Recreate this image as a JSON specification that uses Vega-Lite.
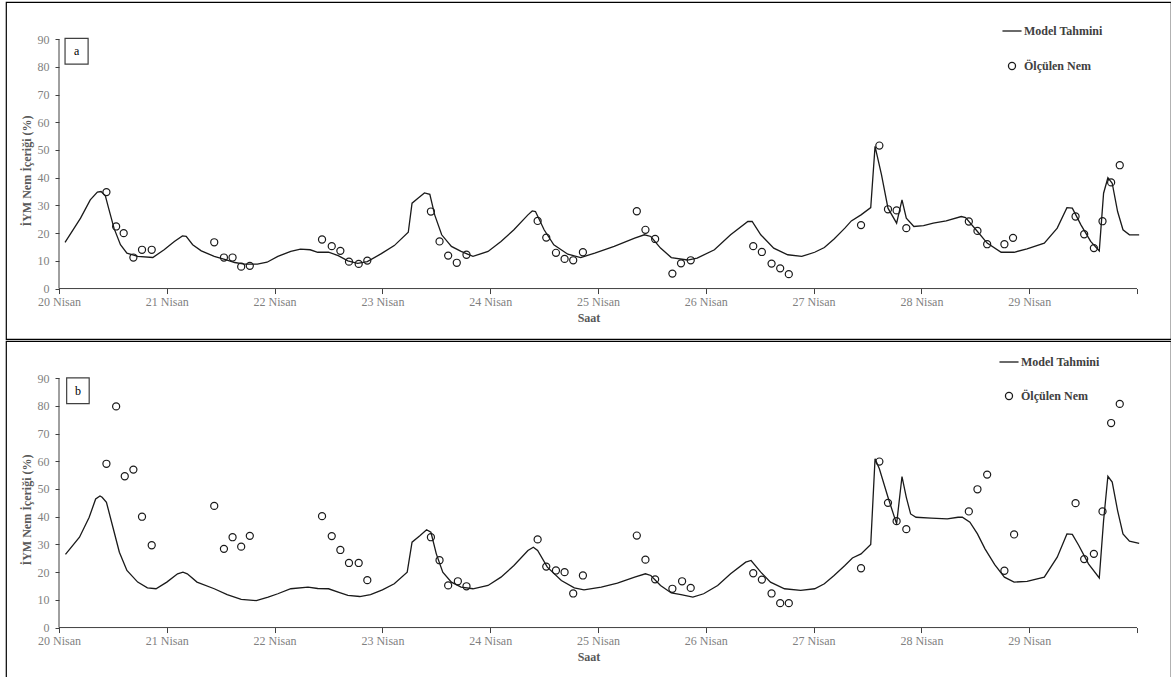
{
"$schema":"https://vega.github.io/schema/vega-lite/v6.json",
"padding":{"left":5,"top":1,"right":1,"bottom":1},
"background":"white",
"spacing":0,
"config":{
 "view":{"stroke":"#000000","strokeWidth":1.2},
 "axis":{"labelFont":"Liberation Serif","labelFontSize":12,"labelColor":"#7f7f7f","tickColor":"#404040","titleFont":"Liberation Serif","titleFontSize":12,"titleFontWeight":"bold","titleColor":"#595959","grid":false,"domain":false,"labelOverlap":false},
 "legend":{"labelFont":"Liberation Serif"}
},
"datasets":{
"lines":[
{"p":"a","x":20.056,"y":16.7},{"p":"a","x":20.2,"y":25.4},{"p":"a","x":20.29,"y":32},{"p":"a","x":20.356,"y":34.8},{"p":"a","x":20.39,"y":35},{"p":"a","x":20.43,"y":33.5},{"p":"a","x":20.46,"y":29},{"p":"a","x":20.51,"y":21.8},{"p":"a","x":20.57,"y":15.8},{"p":"a","x":20.63,"y":12.8},{"p":"a","x":20.73,"y":11.6},{"p":"a","x":20.87,"y":11.2},{"p":"a","x":20.975,"y":14},{"p":"a","x":21.07,"y":17},{"p":"a","x":21.145,"y":19},{"p":"a","x":21.18,"y":18.8},{"p":"a","x":21.24,"y":15.8},{"p":"a","x":21.32,"y":13.6},{"p":"a","x":21.44,"y":11.6},{"p":"a","x":21.56,"y":10.3},{"p":"a","x":21.63,"y":9.4},{"p":"a","x":21.72,"y":8.8},{"p":"a","x":21.84,"y":8.8},{"p":"a","x":21.93,"y":9.5},{"p":"a","x":22.03,"y":11.6},{"p":"a","x":22.15,"y":13.4},{"p":"a","x":22.24,"y":14.2},{"p":"a","x":22.33,"y":14},{"p":"a","x":22.4,"y":13.1},{"p":"a","x":22.5,"y":13.1},{"p":"a","x":22.59,"y":11.9},{"p":"a","x":22.68,"y":10},{"p":"a","x":22.77,"y":9.1},{"p":"a","x":22.86,"y":9.7},{"p":"a","x":22.99,"y":12.6},{"p":"a","x":23.11,"y":15.5},{"p":"a","x":23.24,"y":20.3},{"p":"a","x":23.275,"y":30.8},{"p":"a","x":23.33,"y":32.6},{"p":"a","x":23.39,"y":34.5},{"p":"a","x":23.44,"y":34},{"p":"a","x":23.485,"y":26.6},{"p":"a","x":23.55,"y":19.4},{"p":"a","x":23.64,"y":15.2},{"p":"a","x":23.73,"y":13.4},{"p":"a","x":23.84,"y":11.6},{"p":"a","x":23.98,"y":13.4},{"p":"a","x":24.1,"y":17},{"p":"a","x":24.22,"y":21.2},{"p":"a","x":24.35,"y":26.6},{"p":"a","x":24.39,"y":28},{"p":"a","x":24.42,"y":27.8},{"p":"a","x":24.5,"y":21.2},{"p":"a","x":24.59,"y":15.8},{"p":"a","x":24.72,"y":12.4},{"p":"a","x":24.84,"y":11.2},{"p":"a","x":24.97,"y":12.8},{"p":"a","x":25.15,"y":15.2},{"p":"a","x":25.34,"y":18.2},{"p":"a","x":25.43,"y":19.4},{"p":"a","x":25.49,"y":18.8},{"p":"a","x":25.58,"y":14.6},{"p":"a","x":25.68,"y":11.2},{"p":"a","x":25.83,"y":10.3},{"p":"a","x":25.92,"y":11},{"p":"a","x":26.08,"y":14},{"p":"a","x":26.23,"y":19.4},{"p":"a","x":26.39,"y":24.2},{"p":"a","x":26.43,"y":24.2},{"p":"a","x":26.51,"y":19.4},{"p":"a","x":26.63,"y":14.6},{"p":"a","x":26.76,"y":12.2},{"p":"a","x":26.89,"y":11.6},{"p":"a","x":27.01,"y":13.1},{"p":"a","x":27.1,"y":14.8},{"p":"a","x":27.19,"y":17.9},{"p":"a","x":27.29,"y":21.8},{"p":"a","x":27.35,"y":24.4},{"p":"a","x":27.44,"y":26.6},{"p":"a","x":27.53,"y":29.2},{"p":"a","x":27.57,"y":51.3},{"p":"a","x":27.63,"y":41},{"p":"a","x":27.69,"y":29},{"p":"a","x":27.77,"y":23.6},{"p":"a","x":27.82,"y":32},{"p":"a","x":27.86,"y":25.4},{"p":"a","x":27.93,"y":22.4},{"p":"a","x":28.02,"y":22.7},{"p":"a","x":28.11,"y":23.6},{"p":"a","x":28.23,"y":24.4},{"p":"a","x":28.37,"y":26},{"p":"a","x":28.41,"y":25.6},{"p":"a","x":28.52,"y":20.6},{"p":"a","x":28.61,"y":16.4},{"p":"a","x":28.74,"y":13.1},{"p":"a","x":28.86,"y":13.1},{"p":"a","x":28.98,"y":14.3},{"p":"a","x":29.14,"y":16.4},{"p":"a","x":29.26,"y":21.8},{"p":"a","x":29.35,"y":29.2},{"p":"a","x":29.4,"y":29},{"p":"a","x":29.48,"y":23},{"p":"a","x":29.57,"y":17},{"p":"a","x":29.65,"y":13.6},{"p":"a","x":29.69,"y":34.4},{"p":"a","x":29.73,"y":40},{"p":"a","x":29.77,"y":38},{"p":"a","x":29.82,"y":27.8},{"p":"a","x":29.87,"y":21.2},{"p":"a","x":29.93,"y":19.4},{"p":"a","x":30.02,"y":19.4},
{"p":"b","x":20.06,"y":26.4},{"p":"b","x":20.19,"y":32.6},{"p":"b","x":20.28,"y":39.8},{"p":"b","x":20.34,"y":46.4},{"p":"b","x":20.38,"y":47.5},{"p":"b","x":20.4,"y":47},{"p":"b","x":20.44,"y":45.2},{"p":"b","x":20.5,"y":36.2},{"p":"b","x":20.56,"y":27.2},{"p":"b","x":20.63,"y":20.6},{"p":"b","x":20.73,"y":16.4},{"p":"b","x":20.82,"y":14.3},{"p":"b","x":20.9,"y":14},{"p":"b","x":21.0,"y":16.4},{"p":"b","x":21.1,"y":19.4},{"p":"b","x":21.15,"y":20},{"p":"b","x":21.19,"y":19.4},{"p":"b","x":21.28,"y":16.4},{"p":"b","x":21.44,"y":14},{"p":"b","x":21.56,"y":11.9},{"p":"b","x":21.69,"y":10.2},{"p":"b","x":21.83,"y":9.7},{"p":"b","x":21.94,"y":11},{"p":"b","x":22.03,"y":12.2},{"p":"b","x":22.15,"y":14},{"p":"b","x":22.31,"y":14.6},{"p":"b","x":22.4,"y":14.1},{"p":"b","x":22.5,"y":14},{"p":"b","x":22.59,"y":12.8},{"p":"b","x":22.68,"y":11.6},{"p":"b","x":22.79,"y":11.2},{"p":"b","x":22.89,"y":11.9},{"p":"b","x":23.0,"y":13.6},{"p":"b","x":23.11,"y":15.8},{"p":"b","x":23.23,"y":20},{"p":"b","x":23.275,"y":30.8},{"p":"b","x":23.35,"y":33.2},{"p":"b","x":23.41,"y":35.3},{"p":"b","x":23.45,"y":34.4},{"p":"b","x":23.5,"y":26.6},{"p":"b","x":23.56,"y":20},{"p":"b","x":23.64,"y":16.4},{"p":"b","x":23.73,"y":14.6},{"p":"b","x":23.84,"y":14},{"p":"b","x":23.98,"y":15.2},{"p":"b","x":24.1,"y":18.2},{"p":"b","x":24.22,"y":22.4},{"p":"b","x":24.35,"y":27.8},{"p":"b","x":24.4,"y":29},{"p":"b","x":24.44,"y":27.8},{"p":"b","x":24.53,"y":21.8},{"p":"b","x":24.66,"y":17},{"p":"b","x":24.78,"y":14.3},{"p":"b","x":24.87,"y":13.6},{"p":"b","x":25.03,"y":14.6},{"p":"b","x":25.18,"y":16},{"p":"b","x":25.34,"y":18.2},{"p":"b","x":25.44,"y":19.4},{"p":"b","x":25.49,"y":18.8},{"p":"b","x":25.58,"y":15.2},{"p":"b","x":25.68,"y":12.5},{"p":"b","x":25.77,"y":11.9},{"p":"b","x":25.88,"y":11},{"p":"b","x":25.98,"y":12.2},{"p":"b","x":26.11,"y":15.2},{"p":"b","x":26.23,"y":19.4},{"p":"b","x":26.37,"y":23.6},{"p":"b","x":26.42,"y":24.2},{"p":"b","x":26.51,"y":20},{"p":"b","x":26.6,"y":16.4},{"p":"b","x":26.73,"y":14},{"p":"b","x":26.88,"y":13.4},{"p":"b","x":27.01,"y":14},{"p":"b","x":27.1,"y":15.8},{"p":"b","x":27.19,"y":18.8},{"p":"b","x":27.29,"y":22.4},{"p":"b","x":27.36,"y":25.1},{"p":"b","x":27.44,"y":26.6},{"p":"b","x":27.53,"y":30},{"p":"b","x":27.57,"y":60.9},{"p":"b","x":27.61,"y":57.3},{"p":"b","x":27.69,"y":47},{"p":"b","x":27.77,"y":37.4},{"p":"b","x":27.82,"y":54.5},{"p":"b","x":27.86,"y":47},{"p":"b","x":27.9,"y":41},{"p":"b","x":27.95,"y":39.8},{"p":"b","x":28.09,"y":39.5},{"p":"b","x":28.24,"y":39.2},{"p":"b","x":28.34,"y":39.8},{"p":"b","x":28.38,"y":39.8},{"p":"b","x":28.45,"y":38},{"p":"b","x":28.52,"y":33.8},{"p":"b","x":28.59,"y":28.4},{"p":"b","x":28.68,"y":22.7},{"p":"b","x":28.77,"y":18.2},{"p":"b","x":28.86,"y":16.4},{"p":"b","x":28.98,"y":16.7},{"p":"b","x":29.14,"y":18.2},{"p":"b","x":29.26,"y":25.4},{"p":"b","x":29.35,"y":33.8},{"p":"b","x":29.4,"y":33.6},{"p":"b","x":29.46,"y":29.6},{"p":"b","x":29.55,"y":23},{"p":"b","x":29.65,"y":17.9},{"p":"b","x":29.69,"y":38.6},{"p":"b","x":29.73,"y":54.6},{"p":"b","x":29.77,"y":52.5},{"p":"b","x":29.82,"y":42.2},{"p":"b","x":29.87,"y":33.8},{"p":"b","x":29.93,"y":31.2},{"p":"b","x":30.02,"y":30.4}
],
"points":[
{"p":"a","x":20.44,"y":34.8},{"p":"a","x":20.53,"y":22.4},{"p":"a","x":20.6,"y":20},{"p":"a","x":20.69,"y":11.2},{"p":"a","x":20.77,"y":14},{"p":"a","x":20.86,"y":14},{"p":"a","x":21.44,"y":16.7},{"p":"a","x":21.53,"y":11.2},{"p":"a","x":21.61,"y":11.2},{"p":"a","x":21.69,"y":7.9},{"p":"a","x":21.77,"y":8.2},{"p":"a","x":22.44,"y":17.7},{"p":"a","x":22.53,"y":15.3},{"p":"a","x":22.61,"y":13.6},{"p":"a","x":22.69,"y":9.7},{"p":"a","x":22.78,"y":8.9},{"p":"a","x":22.86,"y":10.1},{"p":"a","x":23.45,"y":27.8},{"p":"a","x":23.53,"y":17},{"p":"a","x":23.61,"y":11.9},{"p":"a","x":23.69,"y":9.3},{"p":"a","x":23.78,"y":12.2},{"p":"a","x":24.44,"y":24.4},{"p":"a","x":24.52,"y":18.4},{"p":"a","x":24.61,"y":12.9},{"p":"a","x":24.69,"y":10.7},{"p":"a","x":24.77,"y":10.2},{"p":"a","x":24.86,"y":13.1},{"p":"a","x":25.36,"y":27.9},{"p":"a","x":25.44,"y":21.2},{"p":"a","x":25.53,"y":17.9},{"p":"a","x":25.69,"y":5.4},{"p":"a","x":25.77,"y":9.1},{"p":"a","x":25.86,"y":10.2},{"p":"a","x":26.44,"y":15.3},{"p":"a","x":26.52,"y":13.2},{"p":"a","x":26.61,"y":9},{"p":"a","x":26.69,"y":7.3},{"p":"a","x":26.77,"y":5.2},{"p":"a","x":27.44,"y":22.9},{"p":"a","x":27.61,"y":51.6},{"p":"a","x":27.69,"y":28.6},{"p":"a","x":27.77,"y":28.2},{"p":"a","x":27.86,"y":21.8},{"p":"a","x":28.44,"y":24.2},{"p":"a","x":28.52,"y":20.8},{"p":"a","x":28.61,"y":16},{"p":"a","x":28.77,"y":16},{"p":"a","x":28.85,"y":18.3},{"p":"a","x":29.43,"y":26},{"p":"a","x":29.51,"y":19.6},{"p":"a","x":29.6,"y":14.6},{"p":"a","x":29.68,"y":24.3},{"p":"a","x":29.76,"y":38.3},{"p":"a","x":29.84,"y":44.5},
{"p":"b","x":20.44,"y":59.1},{"p":"b","x":20.53,"y":79.8},{"p":"b","x":20.61,"y":54.6},{"p":"b","x":20.69,"y":57},{"p":"b","x":20.77,"y":40},{"p":"b","x":20.86,"y":29.7},{"p":"b","x":21.44,"y":43.9},{"p":"b","x":21.53,"y":28.4},{"p":"b","x":21.61,"y":32.6},{"p":"b","x":21.69,"y":29.2},{"p":"b","x":21.77,"y":33.1},{"p":"b","x":22.44,"y":40.2},{"p":"b","x":22.53,"y":33},{"p":"b","x":22.61,"y":28},{"p":"b","x":22.69,"y":23.3},{"p":"b","x":22.78,"y":23.3},{"p":"b","x":22.86,"y":17.1},{"p":"b","x":23.45,"y":32.6},{"p":"b","x":23.53,"y":24.3},{"p":"b","x":23.61,"y":15.2},{"p":"b","x":23.7,"y":16.7},{"p":"b","x":23.78,"y":14.9},{"p":"b","x":24.44,"y":31.8},{"p":"b","x":24.52,"y":22},{"p":"b","x":24.61,"y":20.6},{"p":"b","x":24.69,"y":20},{"p":"b","x":24.77,"y":12.3},{"p":"b","x":24.86,"y":18.8},{"p":"b","x":25.36,"y":33.2},{"p":"b","x":25.44,"y":24.5},{"p":"b","x":25.53,"y":17.4},{"p":"b","x":25.69,"y":14},{"p":"b","x":25.78,"y":16.7},{"p":"b","x":25.86,"y":14.3},{"p":"b","x":26.44,"y":19.6},{"p":"b","x":26.52,"y":17.3},{"p":"b","x":26.61,"y":12.3},{"p":"b","x":26.69,"y":8.8},{"p":"b","x":26.77,"y":8.8},{"p":"b","x":27.44,"y":21.4},{"p":"b","x":27.61,"y":59.9},{"p":"b","x":27.69,"y":45},{"p":"b","x":27.77,"y":38.4},{"p":"b","x":27.86,"y":35.5},{"p":"b","x":28.44,"y":41.9},{"p":"b","x":28.52,"y":49.9},{"p":"b","x":28.61,"y":55.2},{"p":"b","x":28.77,"y":20.5},{"p":"b","x":28.86,"y":33.6},{"p":"b","x":29.43,"y":44.9},{"p":"b","x":29.51,"y":24.7},{"p":"b","x":29.6,"y":26.6},{"p":"b","x":29.68,"y":41.9},{"p":"b","x":29.76,"y":73.8},{"p":"b","x":29.84,"y":80.7}
]
},
"resolve":{"scale":{"x":"independent","y":"independent","shape":"independent"},"legend":{"shape":"independent"},"axis":{"x":"independent","y":"independent"}},
"vconcat":[
{
 "width":1165,"height":337,
 "layer":[
  {"data":{"name":"lines"},"transform":[{"filter":"datum.p === 'a'"}],
   "mark":{"type":"line","color":"#1a1a1a","strokeWidth":1.3},
   "encoding":{
    "x":{"field":"x","type":"quantitative","scale":{"domain":[19.5083,30.3154],"nice":false,"zero":false},
      "axis":{"title":"Saat","values":[20,21,22,23,24,25,26,27,28,29,30],"tickCount":40,"offset":-50.44,"tickSize":5,"labelPadding":3,"titlePadding":5,"labelFlush":false,"labelOverlap":false,"labelExpr":"datum.value < 30 ? datum.value + ' Nisan' : ''"}},
    "y":{"field":"y","type":"quantitative","scale":{"domain":[-18.2,103.4],"nice":false,"zero":false},
      "axis":{"title":"İYM Nem İçeriği (%)","values":[0,10,20,30,40,50,60,70,80,90],"tickCount":20,"offset":-53,"tickSize":4,"labelPadding":6,"titlePadding":4,"labelOverlap":false}}
   }},
  {"data":{"name":"points"},"transform":[{"filter":"datum.p === 'a'"}],
   "mark":{"type":"point","filled":false,"stroke":"#1a1a1a","strokeWidth":1.2,"size":50,"opacity":1},
   "encoding":{
    "x":{"field":"x","type":"quantitative",
      "axis":{"title":"Saat","values":[20,21,22,23,24,25,26,27,28,29,30],"tickCount":40,"offset":-50.44,"tickSize":5,"labelPadding":3,"titlePadding":5,"labelFlush":false,"labelOverlap":false,"labelExpr":"datum.value < 30 ? datum.value + ' Nisan' : ''"}},
    "y":{"field":"y","type":"quantitative",
      "axis":{"title":"İYM Nem İçeriği (%)","values":[0,10,20,30,40,50,60,70,80,90],"tickCount":20,"offset":-53,"tickSize":4,"labelPadding":6,"titlePadding":4,"labelOverlap":false}},
    "shape":{"datum":"Ölçülen Nem","type":"nominal","scale":{"domain":["Model Tahmini","Ölçülen Nem"],"range":["M-2.7,0H2.7","circle"]},
      "legend":{"title":null,"orient":"none","legendX":1000,"legendY":23,"padding":0,"symbolSize":50,"rowPadding":22,"labelOffset":6,"labelFont":"Liberation Serif","labelFontSize":12,"labelFontWeight":"bold","labelColor":"#404040","symbolStrokeColor":"#1a1a1a","symbolStrokeWidth":1.3}}
   }},
  {"data":{"values":[{}]},"mark":{"type":"rule","color":"#404040","strokeWidth":1},
   "encoding":{"x":{"datum":20,"type":"quantitative"},"x2":{"datum":30},"y":{"datum":0,"type":"quantitative"}}},
  {"data":{"values":[{}]},"mark":{"type":"rule","color":"#404040","strokeWidth":1},
   "encoding":{"x":{"datum":20,"type":"quantitative"},"y":{"datum":0,"type":"quantitative"},"y2":{"datum":90}}},
  {"data":{"values":[{}]},"mark":{"type":"rect","fill":"white","stroke":"#404040","strokeWidth":1.2},
   "encoding":{"x":{"datum":20.056,"type":"quantitative"},"x2":{"datum":20.27},"y":{"datum":81,"type":"quantitative"},"y2":{"datum":90.3}}},
  {"data":{"values":[{}]},"mark":{"type":"text","text":"a","font":"Liberation Serif","fontSize":12,"color":"#000000","align":"center","baseline":"middle"},
   "encoding":{"x":{"datum":20.163,"type":"quantitative"},"y":{"datum":85.8,"type":"quantitative"}}}
 ]
},
{
 "width":1165,"height":337,
 "layer":[
  {"data":{"name":"lines"},"transform":[{"filter":"datum.p === 'b'"}],
   "mark":{"type":"line","color":"#1a1a1a","strokeWidth":1.3},
   "encoding":{
    "x":{"field":"x","type":"quantitative","scale":{"domain":[19.5083,30.3154],"nice":false,"zero":false},
      "axis":{"title":"Saat","values":[20,21,22,23,24,25,26,27,28,29,30],"tickCount":40,"offset":-50.44,"tickSize":5,"labelPadding":3,"titlePadding":5,"labelFlush":false,"labelOverlap":false,"labelExpr":"datum.value < 30 ? datum.value + ' Nisan' : ''"}},
    "y":{"field":"y","type":"quantitative","scale":{"domain":[-18.2,103.4],"nice":false,"zero":false},
      "axis":{"title":"İYM Nem İçeriği (%)","values":[0,10,20,30,40,50,60,70,80,90],"tickCount":20,"offset":-53,"tickSize":4,"labelPadding":6,"titlePadding":4,"labelOverlap":false}}
   }},
  {"data":{"name":"points"},"transform":[{"filter":"datum.p === 'b'"}],
   "mark":{"type":"point","filled":false,"stroke":"#1a1a1a","strokeWidth":1.2,"size":50,"opacity":1},
   "encoding":{
    "x":{"field":"x","type":"quantitative",
      "axis":{"title":"Saat","values":[20,21,22,23,24,25,26,27,28,29,30],"tickCount":40,"offset":-50.44,"tickSize":5,"labelPadding":3,"titlePadding":5,"labelFlush":false,"labelOverlap":false,"labelExpr":"datum.value < 30 ? datum.value + ' Nisan' : ''"}},
    "y":{"field":"y","type":"quantitative",
      "axis":{"title":"İYM Nem İçeriği (%)","values":[0,10,20,30,40,50,60,70,80,90],"tickCount":20,"offset":-53,"tickSize":4,"labelPadding":6,"titlePadding":4,"labelOverlap":false}},
    "shape":{"datum":"Ölçülen Nem","type":"nominal","scale":{"domain":["Model Tahmini","Ölçülen Nem"],"range":["M-2.7,0H2.7","circle"]},
      "legend":{"title":null,"orient":"none","legendX":997,"legendY":15,"padding":0,"symbolSize":50,"rowPadding":21,"labelOffset":6,"labelFont":"Liberation Serif","labelFontSize":12,"labelFontWeight":"bold","labelColor":"#404040","symbolStrokeColor":"#1a1a1a","symbolStrokeWidth":1.3}}
   }},
  {"data":{"values":[{}]},"mark":{"type":"rule","color":"#404040","strokeWidth":1},
   "encoding":{"x":{"datum":20,"type":"quantitative"},"x2":{"datum":30},"y":{"datum":0,"type":"quantitative"}}},
  {"data":{"values":[{}]},"mark":{"type":"rule","color":"#404040","strokeWidth":1},
   "encoding":{"x":{"datum":20,"type":"quantitative"},"y":{"datum":0,"type":"quantitative"},"y2":{"datum":90}}},
  {"data":{"values":[{}]},"mark":{"type":"rect","fill":"white","stroke":"#404040","strokeWidth":1.2},
   "encoding":{"x":{"datum":20.071,"type":"quantitative"},"x2":{"datum":20.28},"y":{"datum":80.8,"type":"quantitative"},"y2":{"datum":90.1}}},
  {"data":{"values":[{}]},"mark":{"type":"text","text":"b","font":"Liberation Serif","fontSize":12,"color":"#000000","align":"center","baseline":"middle"},
   "encoding":{"x":{"datum":20.176,"type":"quantitative"},"y":{"datum":85.5,"type":"quantitative"}}}
 ]
}
]
}
